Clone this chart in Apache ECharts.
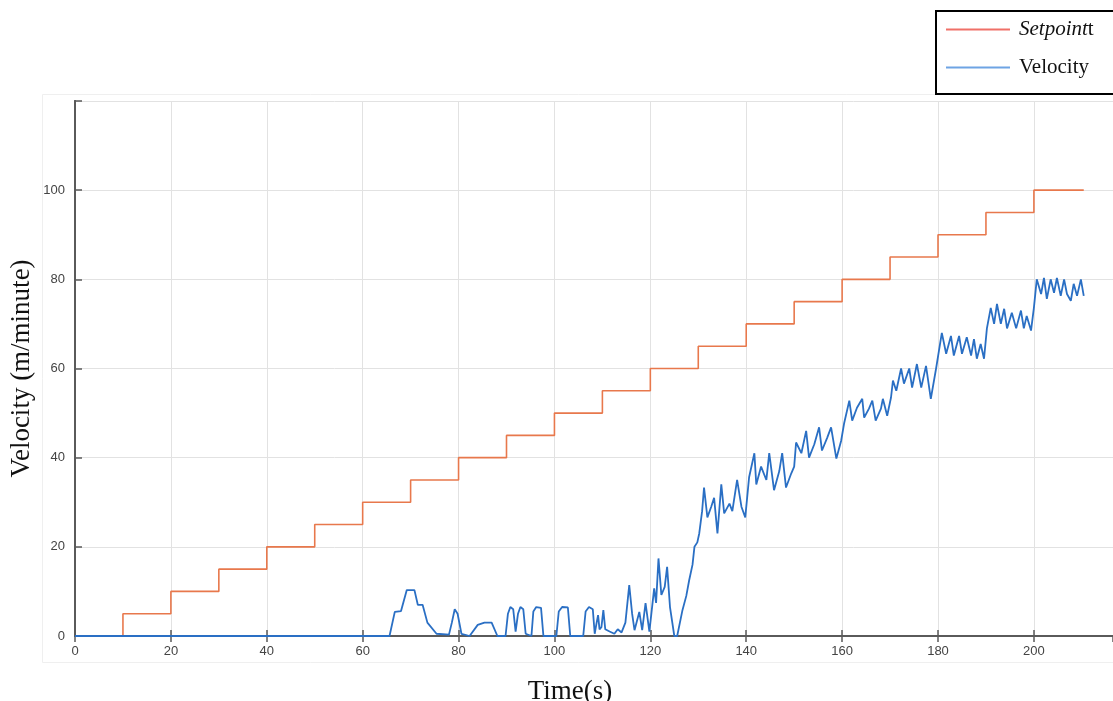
<!DOCTYPE html>
<html>
<head>
<meta charset="utf-8">
<script src="https://cdn.jsdelivr.net/npm/echarts@6/dist/echarts.min.js"></script>
<style>
html,body{margin:0;padding:0;background:#fff;}
#chart{width:1113px;height:701px;}
</style>
</head>
<body>
<div id="chart"></div>
<script>
// Setpoint step times (s) and values (m/minute)
var setpointTime = [0, 10, 20, 30, 40, 50, 60, 70, 80, 90, 100, 110, 120, 130, 140, 150, 160, 170, 180, 190, 200, 210.4];
var setpointValue = [0, 5, 10, 15, 20, 25, 30, 35, 40, 45, 50, 55, 60, 65, 70, 75, 80, 85, 90, 95, 100, 100];

var velocityTime = [0, 65.6, 66.7, 68, 69.2, 70.8, 71.5, 72.5, 73.5, 75.4, 78, 78.6, 79.2, 79.8, 80.6, 82.3, 84, 85.4, 86.9, 88.1,
  89.8, 90.3, 90.8, 91.4, 91.9, 92.4, 92.9, 93.5, 94, 95.2, 95.6, 96.2, 97.2, 97.7, 100.4, 100.9, 101.6, 102.8, 103.3,
  106, 106.5, 107.2, 108, 108.4, 108.8, 109.1, 109.4, 109.8, 110.2, 110.6, 111.5, 112.5, 113.2, 114, 114.8, 115.6, 116.2,
  116.7, 117.7, 118.3, 119, 119.8, 120.8, 121.2, 121.7, 122.3, 123, 123.5, 124.1, 125, 125.6, 126.7, 127.5, 128.1, 128.8,
  129.2, 129.8, 130.2, 130.8, 131.2, 131.9, 132.7, 133.3, 134, 134.8, 135.4, 136.5, 137.1, 138.1, 139, 139.8, 140.6, 141.7,
  142.1, 143.1, 144.2, 144.8, 145.8, 146.9, 147.5, 148.3, 149.4, 150, 150.4, 151.5, 152.5, 153.1, 154.2, 155.2, 155.8,
  156.9, 157.7, 158.8, 159.8, 160.4, 161.5, 162.1, 163.1, 164.2, 164.6, 165.6, 166.3, 167, 168.1, 168.5, 169.4, 170.2,
  170.6, 171.3, 172.3, 172.9, 174, 174.6, 175.6, 176.5, 177.5, 178.5, 179.6, 180.2, 180.8, 181.7, 182.7, 183.3, 184.4,
  185, 186, 186.9, 187.5, 188.1, 188.9, 189.6, 190.2, 191, 191.7, 192.3, 193.1, 193.8, 194.4, 195.4, 196.3, 197.3, 197.9,
  198.5, 199.4, 200, 200.6, 201.5, 202.1, 202.7, 203.5, 204.2, 204.8, 205.6, 206.3, 206.9, 207.7, 208.3, 209, 209.8, 210.4];
var velocityValue = [0, 0, 5.4, 5.6, 10.3, 10.3, 7, 7, 3, 0.5, 0.3, 3, 6, 5, 0.5, 0, 2.5, 3, 3, 0,
  0, 5, 6.5, 6, 1, 5, 6.5, 6, 0.5, 0, 5.5, 6.5, 6.3, 0, 0, 5.5, 6.5, 6.4, 0,
  0, 5.5, 6.5, 6, 0.5, 3, 4.7, 1.5, 2, 5.8, 1.5, 1, 0.5, 1.5, 0.8, 3, 11.4, 5,
  1.3, 5.4, 1.3, 7.4, 1, 10.7, 7.4, 17.4, 9.2, 11, 15.5, 6.5, 0, 0, 5.8, 9, 12.5, 16,
  20, 21, 23, 28, 33.3, 26.6, 29, 31, 23, 34, 27.5, 29.7, 28, 35, 29, 26.6, 35.6, 41,
  34, 38, 35, 41, 32.7, 37, 41, 33.3, 36.5, 38, 43.4, 41, 46, 40, 43, 46.8, 41.6,
  44.5, 46.8, 39.8, 43.8, 47.6, 52.8, 48.3, 51.2, 53.2, 49, 51, 52.8, 48.3, 51, 53.2, 49.4, 53.5,
  57.3, 55, 60, 56.6, 60, 55.7, 61, 55.7, 60.6, 53.2, 60, 64, 68, 63.3, 67.3, 62.9, 67.3,
  63.3, 67, 62.9, 66.6, 62.2, 65.5, 62.2, 69, 73.6, 70, 74.5, 70, 73.4, 69, 72.5, 69, 73, 69,
  71.8, 68.5, 73.6, 80, 76.7, 80.3, 75.6, 80, 77, 80.3, 76.3, 80, 76.7, 75.2, 79, 76.3, 80, 76.3];

var xTicks = [0, 20, 40, 60, 80, 100, 120, 140, 160, 180, 200];
var yTicks = [0, 20, 40, 60, 80, 100];

function zip(a, b) { return a.map(function (v, i) { return [v, b[i]]; }); }

var chart = echarts.init(document.getElementById('chart'), null, {renderer: 'canvas'});
var axisCol = '#5a5a5a';
var labelStyle = {fontFamily: 'Liberation Sans, Arial, sans-serif', fontSize: 13, color: '#444'};
var serif = 'Liberation Serif, Times New Roman, serif';

chart.setOption({
  animation: false,
  backgroundColor: '#fff',
  graphic: [{
    type: 'rect', left: 40, top: 92, shape: {width: 1100, height: 568},
    style: {fill: 'none', stroke: '#efefef', lineWidth: 1}, z: -1
  }],
  legend: {
    orient: 'vertical',
    left: 936, top: 11,
    padding: [8, 60, 16, 10],
    itemWidth: 64, itemHeight: 2, itemGap: 17,
    icon: 'rect',
    borderColor: '#000', borderWidth: 2,
    backgroundColor: '#fff',
    data: [
      {name: 'Setpointt', itemStyle: {color: '#f07068'}},
      {name: 'Velocity', itemStyle: {color: '#6ea4e4'}}
    ],
    formatter: function (n) { return n === 'Setpointt' ? '{i|Setpoint}{r|t}' : '{r|Velocity}'; },
    textStyle: {
      fontFamily: serif, fontSize: 21, color: '#111', padding: [0, 0, 0, 4],
      rich: {
        i: {fontFamily: serif, fontStyle: 'italic', fontSize: 21, color: '#111', height: 22},
        r: {fontFamily: serif, fontSize: 21, color: '#111', height: 22}
      }
    }
  },
  grid: {left: 75, top: 101, right: 0, bottom: 65, containLabel: false, outerBoundsMode: 'none'},
  xAxis: [{
    type: 'value', min: 0, max: 216.5, interval: 20,
    name: 'Time(s)', nameLocation: 'middle', nameGap: 42, nameMoveOverlap: false,
    nameTextStyle: {fontFamily: serif, fontSize: 27, color: '#111', padding: [0, 48, 0, 0]},
    axisLine: {show: true, lineStyle: {color: axisCol, width: 2}},
    axisTick: {show: true, inside: true, length: 6, lineStyle: {color: axisCol, width: 1.5}},
    axisLabel: Object.assign({showMaxLabel: false, margin: 9,
      formatter: function (v) { return xTicks.indexOf(v) >= 0 ? String(v) : ''; }}, labelStyle),
    splitLine: {show: true, lineStyle: {color: '#e2e2e2', width: 1}}
  }, {
    type: 'value', position: 'top', min: 0, max: 216.5, interval: 20,
    axisLine: {show: true, lineStyle: {color: axisCol, width: 2}},
    axisTick: {show: true, inside: true, length: 6, lineStyle: {color: axisCol, width: 1.5}},
    axisLabel: {show: false}, splitLine: {show: false}
  }],
  yAxis: [{
    type: 'value', min: 0, max: 120, interval: 20,
    name: 'Velocity (m/minute)', nameLocation: 'middle', nameGap: 40, nameRotate: 90, nameMoveOverlap: false,
    nameTextStyle: {fontFamily: serif, fontSize: 27, color: '#111'},
    axisLine: {show: true, lineStyle: {color: axisCol, width: 2}},
    axisTick: {show: true, inside: true, length: 7, lineStyle: {color: axisCol, width: 1.5}},
    axisLabel: Object.assign({margin: 10,
      formatter: function (v) { return yTicks.indexOf(v) >= 0 ? String(v) : ''; }}, labelStyle),
    splitLine: {show: true, lineStyle: {color: '#e2e2e2', width: 1}}
  }, {
    type: 'value', position: 'right', min: 0, max: 120, interval: 20,
    axisLine: {show: true, lineStyle: {color: axisCol, width: 2}},
    axisTick: {show: false}, axisLabel: {show: false}, splitLine: {show: false}
  }],
  series: [{
    name: 'Setpointt', type: 'line', step: 'end', showSymbol: false, symbol: 'none',
    data: zip(setpointTime, setpointValue),
    lineStyle: {color: '#e8784c', width: 1.6},
    itemStyle: {color: '#e8784c'}, z: 3
  }, {
    name: 'Velocity', type: 'line', showSymbol: false, symbol: 'none',
    data: zip(velocityTime, velocityValue),
    lineStyle: {color: '#2a6fc4', width: 1.8},
    itemStyle: {color: '#2a6fc4'}, z: 4
  }]
});
</script>
</body>
</html>
